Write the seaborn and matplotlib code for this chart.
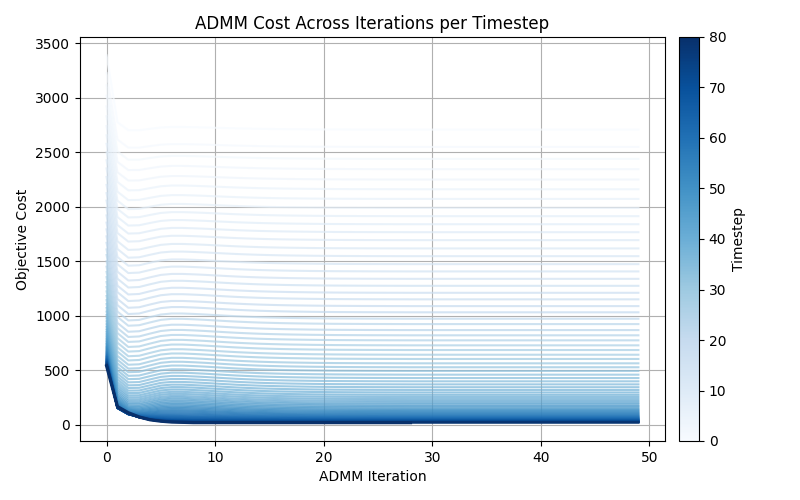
import numpy as np
import pandas as pd
import matplotlib
matplotlib.use("Agg")
import matplotlib.pyplot as plt
import seaborn as sns

# ---- data ----
timesteps = list(range(81))

final_cost = [2709, 2550, 2440, 2346, 2251, 2162, 2073, 1991, 1915, 1841,
              1768, 1695, 1619, 1548, 1475, 1408, 1340, 1276, 1212, 1152,
              1090, 1033, 974, 925, 870, 822, 776, 730, 687, 644,
              605, 565, 529, 495, 461, 430, 400, 372, 346, 321,
              298, 276, 256, 237, 219, 202, 187, 173, 160, 148,
              137, 127, 118, 109, 101, 94, 87, 81, 75, 70,
              65, 61, 57, 53, 50, 47, 44, 41, 39, 37,
              35, 33, 31, 29, 28, 26, 25, 24, 23, 22, 21]

start_cost = [3390, 3228, 3116, 3020, 2923, 2832, 2741, 2657, 2579, 2503,
              2428, 2353, 2275, 2202, 2127, 2058, 1988, 1922, 1856, 1794,
              1730, 1671, 1610, 1559, 1502, 1452, 1404, 1356, 1311, 1266,
              1225, 1183, 1145, 1109, 1073, 1040, 1008, 978, 950, 923,
              898, 874, 852, 831, 811, 792, 775, 759, 744, 730,
              717, 705, 694, 683, 673, 664, 655, 647, 639, 632,
              625, 619, 613, 607, 602, 597, 592, 587, 583, 579,
              575, 571, 567, 563, 560, 556, 553, 550, 547, 544, 541]

iter_counts = [50] * 80 + [29]

# approach profiles (fraction of start-final gap left at each iteration)
approach_fast = [1.0, 0.10, 0.01] + [0.0] * 47
approach_slow = [1.0, 0.283, 0.175, 0.10, 0.05, 0.025, 0.01, 0.005] + [0.0] * 42

# overshoot / undershoot shape after the first drop
bump_shape = [0, 0, -0.5, -0.25, 0.3, 0.8, 1.0, 1.0, 0.92, 0.82,
              0.7, 0.58, 0.47, 0.38, 0.3, 0.24, 0.19, 0.15, 0.12, 0.09,
              0.07, 0.05, 0.04, 0.03, 0.02, 0.015, 0.01, 0.005] + [0.0] * 22

bump_amp = [24, 26, 28, 30, 32, 34, 35, 36, 37, 38,
            39, 40, 41, 42, 43, 44, 45, 46, 46, 47,
            47, 48, 48, 48, 49, 49, 49, 50, 50, 50,
            50, 50, 50, 49, 49, 49, 49, 49, 48, 48,
            48, 48, 47, 47, 46, 46, 45, 44, 43, 42,
            40, 38, 36, 34, 32, 30, 27, 24, 21, 18,
            15, 13, 11, 9, 7, 5, 4, 3, 2, 1,
            1, 1, 1, 0, 0, 0, 0, 0, 0, 0, 0]

rows = []
n_t = len(timesteps)
for i, t in enumerate(timesteps):
    w = (i / (n_t - 1)) ** 3
    for k in range(iter_counts[i]):
        p = (1 - w) * approach_fast[k] + w * approach_slow[k]
        c = final_cost[i] + (start_cost[i] - final_cost[i]) * p + bump_amp[i] * bump_shape[k]
        rows.append((t, k, c))
df = pd.DataFrame(rows, columns=["timestep", "iteration", "cost"])

fig = plt.figure(figsize=(8, 5), dpi=100)
ax = fig.add_axes([0.1, 0.118, 0.73125, 0.808])
cax = fig.add_axes([0.84875, 0.118, 0.025, 0.808])

sns.lineplot(data=df, x="iteration", y="cost", hue="timestep",
             palette="Blues", hue_norm=(0, 80), legend=False,
             linewidth=1.5, alpha=0.7, ax=ax)
ax.lines[-1].set_linewidth(2.3)
ax.lines[-1].set_alpha(1.0)

ax.grid(True)
ax.set_title("ADMM Cost Across Iterations per Timestep")
ax.set_xlabel("ADMM Iteration")
ax.set_ylabel("Objective Cost")

sm = plt.cm.ScalarMappable(cmap="Blues", norm=plt.Normalize(0, 80))
sm.set_array([])
fig.colorbar(sm, cax=cax, label="Timestep")

fig.savefig("out.png", dpi=100)
